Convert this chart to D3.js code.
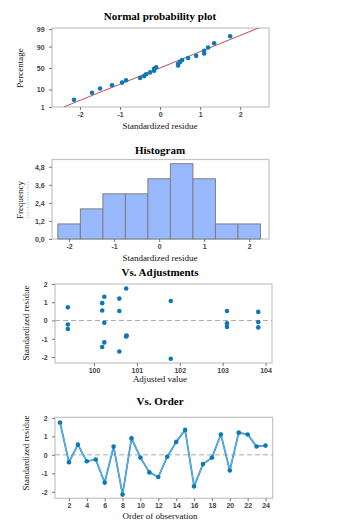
<!DOCTYPE html>
<html>
<head>
<meta charset="utf-8">
<script src="https://cdn.jsdelivr.net/npm/d3@7"></script>
<style>
  body { margin: 0; background: #fff; }
  svg { display: block; }
  .tick text { font-family: "Liberation Sans", Arial, sans-serif; font-size: 7px; fill: #444; font-weight: bold; }
  .title { font-family: "Liberation Serif", "Times New Roman", serif; font-size: 11px; font-weight: bold; fill: #000; }
  .atitle { font-family: "Liberation Serif", "Times New Roman", serif; font-size: 9px; fill: #111; }
</style>
</head>
<body>
<svg id="chart" width="338" height="526"></svg>
<script>
// residuals by order of observation
var orderResid = [1.75, -0.4, 0.55, -0.35, -0.25, -1.5, 0.45, -2.15, 0.9, -0.15, -0.95, -1.2,
                  -0.1, 0.7, 1.35, -1.7, -0.5, -0.15, 1.1, -0.85, 1.2, 1.1, 0.45, 0.5];
// fitted values vs residuals
var fitted   = [99.39, 99.39, 99.39, 100.19, 100.19, 100.19, 100.24, 100.24, 100.24,
                100.59, 100.59, 100.59, 100.75, 100.75, 100.75, 101.79, 101.79,
                103.1, 103.1, 103.1, 103.83, 103.83, 103.83, 100.76];
var fitResid = [0.72, -0.22, -0.47, 0.95, 0.55, -1.45, 1.3, -0.12, -1.2,
                1.2, 0.52, -1.7, 1.75, -0.85, -0.88, 1.07, -2.1,
                0.52, -0.15, -0.35, 0.47, -0.08, -0.38, -0.82];
// histogram
var binMids = [-2, -1.5, -1, -0.5, 0, 0.5, 1, 1.5, 2];
var binCounts = [1, 2, 3, 3, 4, 5, 4, 1, 1];
var histTicks = [0, 1.2, 2.4, 3.6, 4.8];
var probTicks = [1, 10, 50, 90, 99];

var svg = d3.select("#chart");
var frameColor = "#c4c4c4";
var dotColor = "#0c78b8";

// inverse normal cdf (Acklam)
function qnorm(p) {
  var a = [-39.69683028665376, 220.9460984245205, -275.9285104469687, 138.357751867269, -30.66479806614716, 2.506628277459239];
  var b = [-54.47609879822406, 161.5858368580409, -155.6989798598866, 66.80131188771972, -13.28068155288572];
  var c = [-0.007784894002430293, -0.3223964580411365, -2.400758277161838, -2.549732539343734, 4.374664141464968, 2.938163982698783];
  var d = [0.007784695709041462, 0.3224671290700398, 2.445134137142996, 3.754408661907416];
  var q, r;
  if (p < 0.02425) {
    q = Math.sqrt(-2 * Math.log(p));
    return (((((c[0]*q+c[1])*q+c[2])*q+c[3])*q+c[4])*q+c[5]) / ((((d[0]*q+d[1])*q+d[2])*q+d[3])*q+1);
  } else if (p > 1 - 0.02425) {
    q = Math.sqrt(-2 * Math.log(1 - p));
    return -(((((c[0]*q+c[1])*q+c[2])*q+c[3])*q+c[4])*q+c[5]) / ((((d[0]*q+d[1])*q+d[2])*q+d[3])*q+1);
  }
  q = p - 0.5; r = q * q;
  return (((((a[0]*r+a[1])*r+a[2])*r+a[3])*r+a[4])*r+a[5])*q / (((((b[0]*r+b[1])*r+b[2])*r+b[3])*r+b[4])*r+1);
}

function frame(g, x0, y0, x1, y1) {
  g.append("rect").attr("x", x0).attr("y", y0).attr("width", x1 - x0).attr("height", y1 - y0)
    .attr("fill", "none").attr("stroke", frameColor).attr("stroke-width", 1.2);
}
function axes(g, x, y, xt, yt, yfmt, xfmt) {
  var xa = g.append("g").attr("transform", `translate(0,${y.range()[0]})`)
    .call(d3.axisBottom(x).tickValues(xt).tickSize(3).tickPadding(2).tickSizeOuter(0).tickFormat(xfmt || d3.format("d")));
  var ya = g.append("g").attr("class", "yax").attr("transform", `translate(${x.range()[0]},0)`)
    .call(d3.axisLeft(y).tickValues(yt).tickSize(3).tickSizeOuter(0).tickFormat(yfmt || d3.format("d")));
  [xa, ya].forEach(function (a) {
    a.select(".domain").remove();
    a.selectAll(".tick line").attr("stroke", "#777");
  });
  ya.selectAll(".tick text").attr("dx", "-0.2em").attr("dy", "0.35em");
  return ya;
}
function titles(t, ty, xl, xly, yl, ylx, yly) {
  svg.append("text").attr("class", "title").attr("x", 160).attr("y", ty).attr("text-anchor", "middle").text(t);
  svg.append("text").attr("class", "atitle").attr("x", 160).attr("y", xly).attr("text-anchor", "middle").text(xl);
  svg.append("text").attr("class", "atitle").attr("transform", `translate(${ylx},${yly}) rotate(-90)`)
    .attr("text-anchor", "middle").text(yl);
}
var minus = function (f) { return function (v) { return f(v).replace("−", "-"); }; };

// ---- Normal probability plot
(function () {
  var g = svg.append("g");
  var x = d3.scaleLinear().domain([-2.7, 2.72]).range([52, 269]);
  var y = d3.scaleLinear().domain([-2.326, 2.39]).range([107, 28]);
  var n = orderResid.length;
  var sorted = orderResid.slice().sort(d3.ascending);
  var pts = sorted.map(function (v, i) { return { r: v, z: qnorm((i + 1 - 0.3) / (n + 0.4)) }; });
  var mu = d3.mean(orderResid), sd = d3.deviation(orderResid);
  frame(g, 52, 28, 269, 107);
  g.append("clipPath").attr("id", "c1").append("rect").attr("x", 52).attr("y", 28).attr("width", 217).attr("height", 79);
  g.append("line").attr("clip-path", "url(#c1)")
    .attr("x1", x(mu + sd * -2.326)).attr("y1", y(-2.326))
    .attr("x2", x(mu + sd * 2.6)).attr("y2", y(2.6))
    .attr("stroke", "#c0504d").attr("stroke-width", 1);
  g.selectAll("circle").data(pts).enter().append("circle")
    .attr("cx", function (d) { return x(d.r); }).attr("cy", function (d) { return y(d.z); })
    .attr("r", 2.3).attr("fill", dotColor);
  axes(g, x, y, [-2, -1, 0, 1, 2], probTicks.map(function (p) { return qnorm(p / 100); }),
    function (v, i) { return probTicks[i]; }, minus(d3.format("d")));
  titles("Normal probability plot", 20, "Standardized residue", 129, "Percentage", 23, 68);
})();

// ---- Histogram
(function () {
  var g = svg.append("g");
  var x = d3.scaleLinear().domain([-2.38, 2.44]).range([52, 269]);
  var y = d3.scaleLinear().domain([0, 5.28]).range([239, 159.5]);
  frame(g, 52, 159.5, 269, 239);
  g.selectAll("rect.bar").data(binMids).enter().append("rect").attr("class", "bar")
    .attr("x", function (d) { return x(d - 0.25); })
    .attr("width", function (d) { return x(d + 0.25) - x(d - 0.25); })
    .attr("y", function (d, i) { return y(binCounts[i]); })
    .attr("height", function (d, i) { return y(0) - y(binCounts[i]); })
    .attr("fill", "#99b9ff").attr("stroke", "#7e7e7e").attr("stroke-width", 1);
  var ya = axes(g, x, y, [-2, -1, 0, 1, 2], histTicks, function (d) { return d.toFixed(1).replace(".", ","); }, minus(d3.format("d")));
  titles("Histogram", 154, "Standardized residue", 261, "Frequency", 23, 200);
  g.append("line").attr("x1", 28).attr("x2", 28).attr("y1", 182).attr("y2", 218)
    .attr("stroke", "#5b9bd5").attr("stroke-width", 0.8).attr("stroke-dasharray", "1,1.5");
})();

// ---- Vs. Adjustments
(function () {
  var g = svg.append("g");
  var x = d3.scaleLinear().domain([99.09, 104.15]).range([55, 272]);
  var y = d3.scaleLinear().domain([-2.33, 2.0]).range([363, 284]);
  frame(g, 55, 284, 272, 363);
  g.append("line").attr("x1", 55).attr("x2", 272).attr("y1", y(0)).attr("y2", y(0))
    .attr("stroke", "#aaa").attr("stroke-width", 1).attr("stroke-dasharray", "5,3");
  g.selectAll("circle").data(fitted).enter().append("circle")
    .attr("cx", function (d) { return x(d); }).attr("cy", function (d, i) { return y(fitResid[i]); })
    .attr("r", 2.3).attr("fill", dotColor);
  axes(g, x, y, [100, 101, 102, 103, 104], [-2, -1, 0, 1, 2], minus(d3.format("d")));
  titles("Vs. Adjustments", 276, "Adjusted value", 382, "Standardized residue", 29, 323);
})();

// ---- Vs. Order
(function () {
  var g = svg.append("g");
  var x = d3.scaleLinear().domain([0.44, 24.8]).range([55, 272.7]);
  var y = d3.scaleLinear().domain([-2.35, 2.03]).range([498.3, 417.3]);
  frame(g, 55, 417.3, 272.7, 498.3);
  g.append("line").attr("x1", 55).attr("x2", 272.7).attr("y1", y(0)).attr("y2", y(0))
    .attr("stroke", "#aaa").attr("stroke-width", 1).attr("stroke-dasharray", "5,3");
  var line = d3.line().x(function (d, i) { return x(i + 1); }).y(function (d) { return y(d); });
  g.append("path").datum(orderResid).attr("d", line).attr("fill", "none")
    .attr("stroke", "#1d82c4").attr("stroke-width", 1.8);
  g.append("path").datum(orderResid).attr("d", line).attr("fill", "none")
    .attr("stroke", "#7cc4ee").attr("stroke-width", 0.8);
  g.selectAll("circle").data(orderResid).enter().append("circle")
    .attr("cx", function (d, i) { return x(i + 1); }).attr("cy", function (d) { return y(d); })
    .attr("r", 2.3).attr("fill", dotColor);
  axes(g, x, y, d3.range(2, 25, 2), [-2, -1, 0, 1, 2], minus(d3.format("d")));
  titles("Vs. Order", 405, "Order of observation", 519, "Standardized residue", 29, 453);
})();
</script>
</body>
</html>
